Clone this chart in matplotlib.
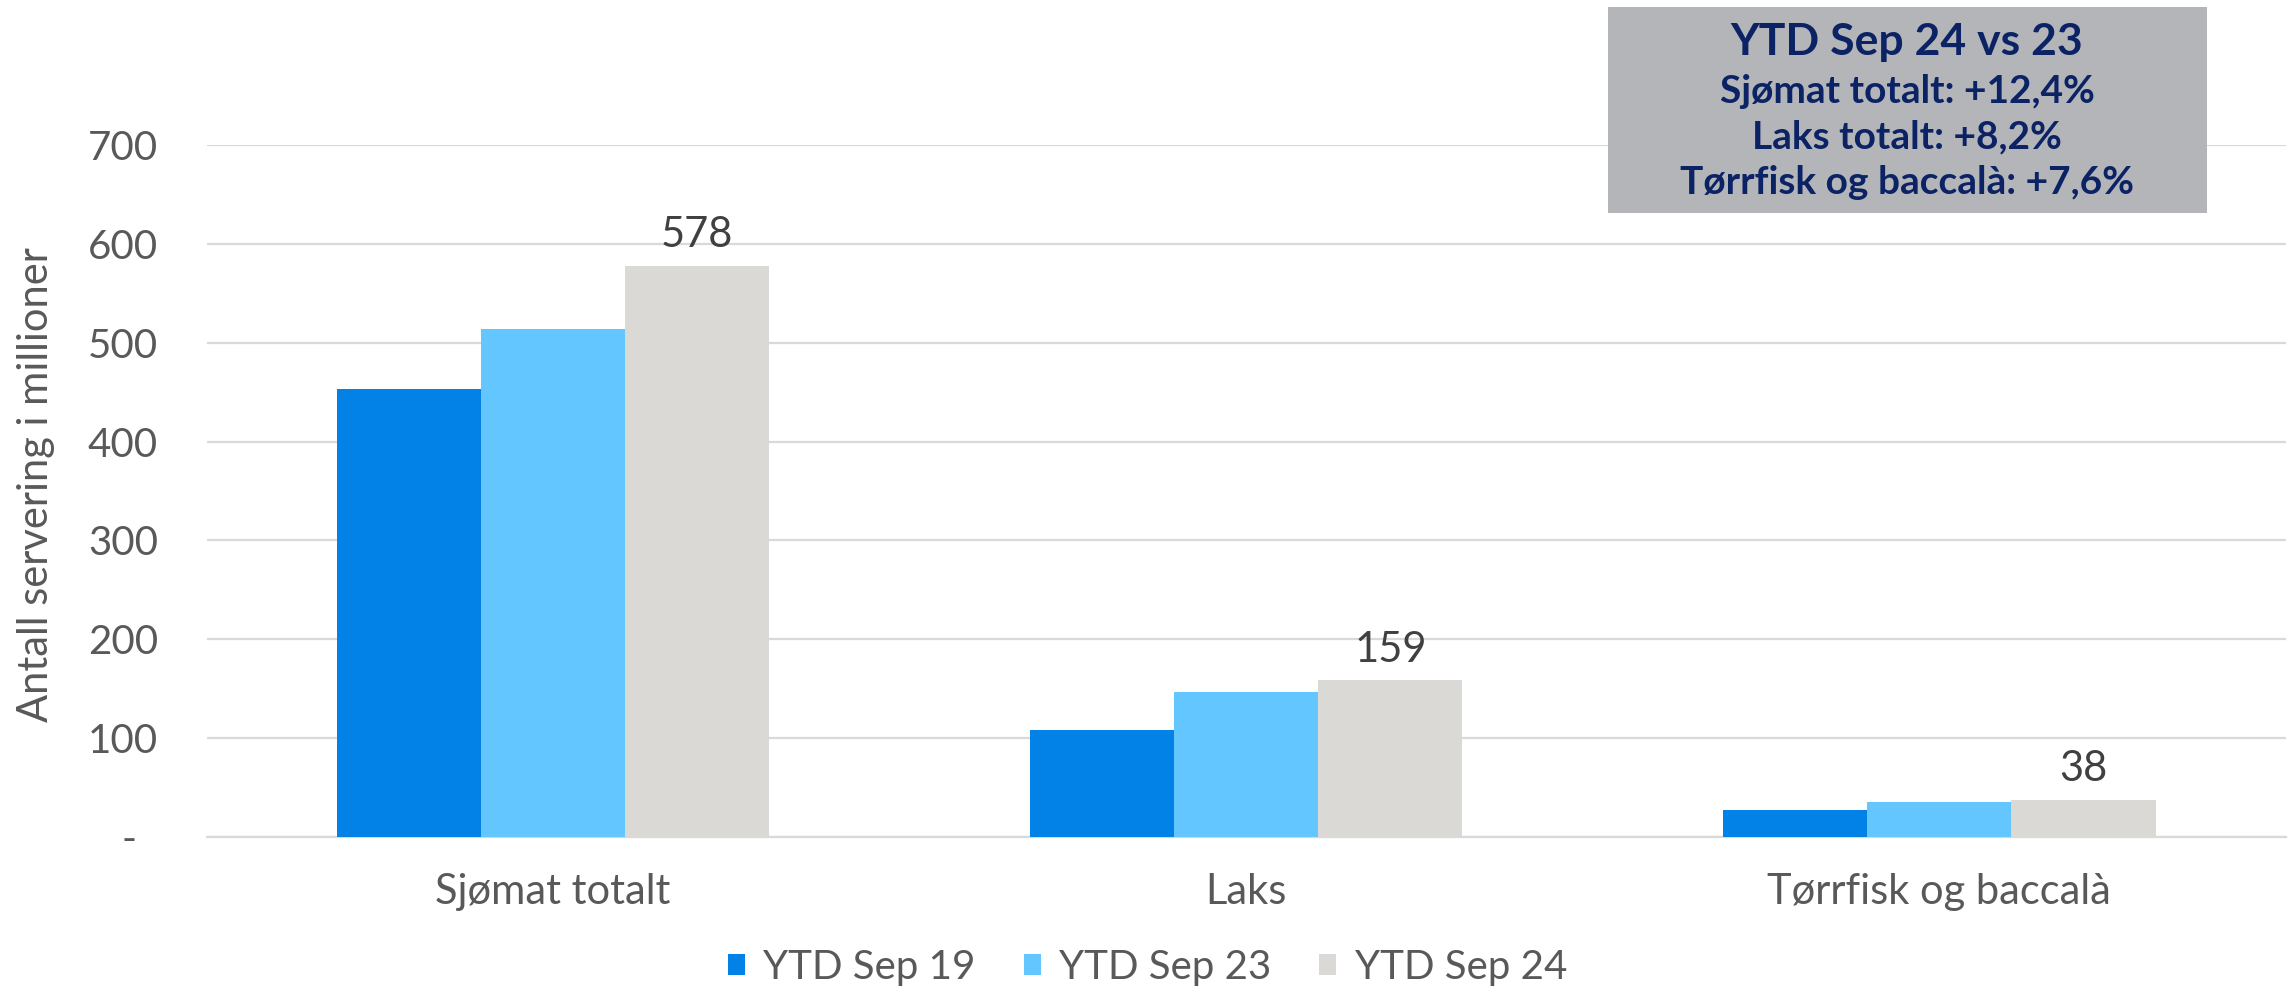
import matplotlib
matplotlib.use("Agg")
from matplotlib import pyplot as plt
from matplotlib.patches import Rectangle
import numpy as np

categories = ["Sjømat totalt", "Laks", "Tørrfisk og baccalà"]
series_names = ["YTD Sep 19", "YTD Sep 23", "YTD Sep 24"]
ytd_sep19 = [453, 108, 27]
ytd_sep23 = [514, 147, 35]
ytd_sep24 = [578, 159, 38]
yticks = [0, 100, 200, 300, 400, 500, 600, 700]
ytick_labels = ["-  ", "100", "200", "300", "400", "500", "600", "700"]
box_title = "YTD Sep 24 vs 23"
box_lines = ["Sjømat totalt: +12,4%", "Laks totalt: +8,2%", "Tørrfisk og baccalà: +7,6%"]

colors = ["#0282E6", "#64C6FE", "#DAD9D5"]
text_grey = "#595959"
navy = "#0B2265"

plt.rcParams["font.family"] = ["Lato", "DejaVu Sans"]

fig = plt.figure(figsize=(22.95, 9.93), dpi=100)
ax = fig.add_axes([0.090, 0.157, 0.906, 0.697])

x = np.arange(len(categories))
w = 0.208
series = [ytd_sep19, ytd_sep23, ytd_sep24]
for i, vals in enumerate(series):
    ax.bar(x + (i - 1) * w, vals, w, color=colors[i], label=series_names[i], zorder=3)

# only the last series is labelled
for xi, v in zip(x + w, ytd_sep24):
    ax.annotate(str(v), (xi, v), xytext=(0, 8), textcoords="offset points",
                ha="center", va="bottom", fontsize=30, color="#404040")

ax.set_xlim(-0.5, 2.5)
ax.set_ylim(0, 700)
ax.set_yticks(yticks)
ax.set_yticklabels(ytick_labels)
ax.set_xticks(x)
ax.set_xticklabels(categories)
ax.grid(axis="y", color="#D9D9D9", linewidth=1.6, zorder=0)
for s in ["top", "right", "left"]:
    ax.spines[s].set_visible(False)
ax.spines["bottom"].set_color("#D9D9D9")
ax.spines["bottom"].set_linewidth(1.6)
ax.tick_params(axis="y", length=0, pad=35, labelsize=29, labelcolor=text_grey)
ax.tick_params(axis="x", length=0, pad=26, labelsize=30, labelcolor=text_grey)
fig.text(0.0155, 0.512, "Antall servering i millioner", rotation=90, ha="center",
         va="center", fontsize=30, color=text_grey)

fig.legend(loc="center", bbox_to_anchor=(0.5, 0.026), ncol=3, frameon=False,
           fontsize=29, labelcolor=text_grey, handlelength=0.42, handleheight=0.42,
           handletextpad=0.45, columnspacing=1.2)

# summary box in the top right
fig.patches.append(Rectangle((0.7005, 0.785), 0.261, 0.208, transform=fig.transFigure,
                             facecolor="#B4B5B8", edgecolor="none", zorder=5))
cx = 0.831
fig.text(cx, 0.958, box_title, ha="center", va="center", fontsize=32,
         fontweight="bold", color=navy, zorder=6)
for j, line in enumerate(box_lines):
    fig.text(cx, 0.908 - j * 0.046, line, ha="center", va="center", fontsize=28,
             fontweight="bold", color=navy, zorder=6)

fig.savefig("out.png", dpi=100)
